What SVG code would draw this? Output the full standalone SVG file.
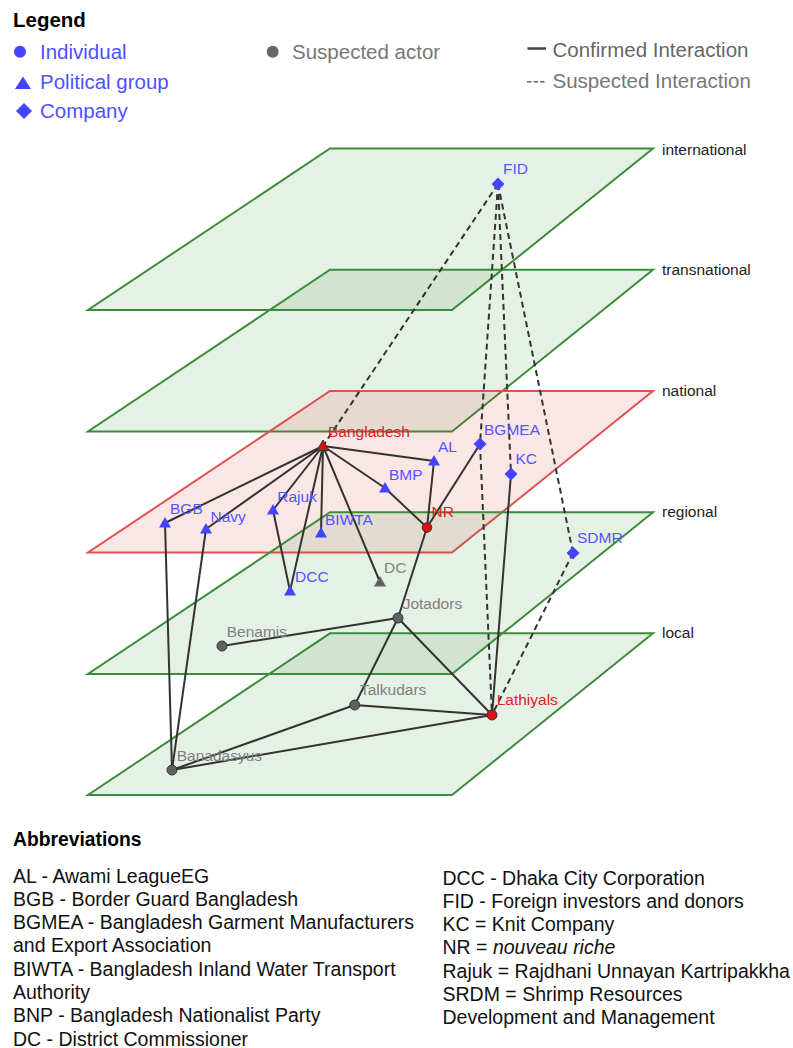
<svg xmlns="http://www.w3.org/2000/svg" width="793" height="1048" viewBox="0 0 793 1048">
<style>
text{font-family:"Liberation Sans",Arial,sans-serif}
.plane{fill:#2e8b2e;fill-opacity:0.12;stroke:#3c8c3c;stroke-width:2}
.nat{fill:#e03a3a;fill-opacity:0.13;stroke:#e05050;stroke-width:2}
.pl{font-size:15.5px;fill:#222}
.e{stroke:#333;stroke-width:2;fill:none}
.d{stroke:#333;stroke-width:2;fill:none;stroke-dasharray:6 4}
.blue{fill:#4444ff}
.red{fill:#dd1111;stroke:#333;stroke-width:1}
.grey{fill:#616161;stroke:#333;stroke-width:1}
.lb{font-size:15.5px;fill:#5555ff}
.lr{font-size:15.5px;fill:#dd2222}
.lg{font-size:15.5px;fill:#808080}
.lgd{font-size:20.5px}
.ab{font-size:19.5px;fill:#111}
.h{font-weight:bold;fill:#000}
</style>
<defs>
<path id="tri" d="M0,-6 L6,4.5 L-6,4.5Z"/>
<path id="dia" d="M0,-6.5 L6.5,0 L0,6.5 L-6.5,0Z"/>
</defs>
<rect width="793" height="1048" fill="#fff"/>

<g id="legend">
<text x="13" y="27" class="lgd h">Legend</text>
<circle cx="20" cy="51.7" r="6" class="blue"/>
<text x="40" y="58.5" class="lgd" fill="#5050ff">Individual</text>
<polygon points="23,76.5 31,89 15,89" class="blue"/>
<text x="40" y="88.5" class="lgd" fill="#5050ff">Political group</text>
<polygon points="24,103 32,111 24,119 16,111" class="blue"/>
<text x="40" y="118" class="lgd" fill="#5050ff">Company</text>
<circle cx="272.7" cy="51.7" r="6" fill="#666"/>
<text x="292" y="58.5" class="lgd" fill="#777">Suspected actor</text>
<line x1="527.5" y1="48.5" x2="546" y2="48.5" stroke="#444" stroke-width="2.5"/>
<text x="552.5" y="57" class="lgd" fill="#666">Confirmed Interaction</text>
<line x1="527" y1="81.7" x2="546" y2="81.7" stroke="#666" stroke-width="1.6" stroke-dasharray="4.5 2"/>
<text x="552.5" y="88" class="lgd" fill="#777">Suspected Interaction</text>
</g>

<g id="planes">
<g id="plane-international"><polygon class="plane" points="330,148.5 653,148.5 452,310 88,310"/><text x="662" y="154.5" class="pl">international</text></g>
<g id="plane-transnational"><polygon class="plane" points="330,269.7 653,269.7 452,431.5 88,431.5"/><text x="662" y="274.5" class="pl">transnational</text></g>
<g id="plane-national"><polygon class="nat" points="330,391 653,391 452,552.5 88,552.5"/><text x="662" y="395.5" class="pl">national</text></g>
<g id="plane-regional"><polygon class="plane" points="330,512.2 653,512.2 452,674 88,674"/><text x="662" y="517" class="pl">regional</text></g>
<g id="plane-local"><polygon class="plane" points="330,633.3 653,633.3 452,795 88,795"/><text x="662" y="638" class="pl">local</text></g>
</g>

<g id="connectors">
<line class="e" x1="323" y1="446" x2="165" y2="523"/>
<line class="e" x1="323" y1="446" x2="206" y2="529"/>
<line class="e" x1="323" y1="446" x2="273" y2="510"/>
<line class="e" x1="323" y1="446" x2="290" y2="591"/>
<line class="e" x1="323" y1="446" x2="321" y2="533"/>
<line class="e" x1="323" y1="446" x2="380" y2="582"/>
<line class="e" x1="323" y1="446" x2="385" y2="488"/>
<line class="e" x1="323" y1="446" x2="434" y2="461"/>
<line class="e" x1="385" y1="488" x2="427" y2="527.5"/>
<line class="e" x1="427" y1="527.5" x2="434" y2="461"/>
<line class="e" x1="427" y1="527.5" x2="480" y2="444"/>
<line class="e" x1="427" y1="527.5" x2="398" y2="618"/>
<line class="e" x1="511" y1="474" x2="492" y2="715"/>
<line class="e" x1="165" y1="523" x2="172" y2="770"/>
<line class="e" x1="206" y1="529" x2="172" y2="770"/>
<line class="e" x1="273" y1="510" x2="290" y2="591"/>
<line class="e" x1="398" y1="618" x2="222" y2="646"/>
<line class="e" x1="398" y1="618" x2="354.7" y2="705"/>
<line class="e" x1="398" y1="618" x2="492" y2="715"/>
<line class="e" x1="354.7" y1="705" x2="492" y2="715"/>
<line class="e" x1="354.7" y1="705" x2="172" y2="770"/>
<line class="e" x1="172" y1="770" x2="492" y2="715"/>
<line class="d" x1="498" y1="184" x2="323" y2="446"/>
<line class="d" x1="498" y1="184" x2="480" y2="444"/>
<line class="d" x1="480" y1="444" x2="492" y2="715"/>
<line class="d" x1="498" y1="184" x2="511" y2="474"/>
<line class="d" x1="498" y1="184" x2="573" y2="553"/>
<line class="d" x1="573" y1="553" x2="492" y2="715"/>
</g>

<g id="nodes">
<g id="node-FID"><use href="#dia" x="498" y="184" class="blue"/><text x="503" y="173.5" class="lb">FID</text></g>
<g id="node-Bangladesh"><use href="#tri" x="323" y="446" class="red"/><text x="328" y="437" class="lr">Bangladesh</text></g>
<g id="node-AL"><use href="#tri" x="434" y="461" class="blue"/><text x="438" y="451.5" class="lb">AL</text></g>
<g id="node-BMP"><use href="#tri" x="385" y="488" class="blue"/><text x="389" y="480" class="lb">BMP</text></g>
<g id="node-BGMEA"><use href="#dia" x="480" y="444" class="blue"/><text x="484" y="435" class="lb">BGMEA</text></g>
<g id="node-KC"><use href="#dia" x="511" y="474" class="blue"/><text x="515.5" y="464" class="lb">KC</text></g>
<g id="node-NR"><circle cx="427" cy="527.5" r="4.8" class="red"/><text x="431.5" y="517.3" class="lr">NR</text></g>
<g id="node-SDMR"><use href="#dia" x="573" y="553" class="blue"/><text x="577" y="543.3" class="lb">SDMR</text></g>
<g id="node-DC"><use href="#tri" x="380" y="582" fill="#616161"/><text x="384" y="572.7" class="lg">DC</text></g>
<g id="node-BGB"><use href="#tri" x="165" y="523" class="blue"/><text x="170" y="514" class="lb">BGB</text></g>
<g id="node-Navy"><use href="#tri" x="206" y="529" class="blue"/><text x="210.5" y="521.7" class="lb">Navy</text></g>
<g id="node-Rajuk"><use href="#tri" x="273" y="510" class="blue"/><text x="277.3" y="501.7" class="lb">Rajuk</text></g>
<g id="node-BIWTA"><use href="#tri" x="321" y="533" class="blue"/><text x="325" y="525" class="lb">BIWTA</text></g>
<g id="node-DCC"><use href="#tri" x="290" y="591" class="blue"/><text x="295" y="582.3" class="lb">DCC</text></g>
<g id="node-Jotadors"><circle cx="398" cy="618" r="5" class="grey"/><text x="402.7" y="609.3" class="lg">Jotadors</text></g>
<g id="node-Benamis"><circle cx="222" cy="646" r="5" class="grey"/><text x="226.7" y="636.7" class="lg">Benamis</text></g>
<g id="node-Talkudars"><circle cx="354.7" cy="705" r="5" class="grey"/><text x="360" y="695" class="lg">Talkudars</text></g>
<g id="node-Lathiyals"><circle cx="492" cy="715" r="5" class="red"/><text x="496.7" y="705" class="lr">Lathiyals</text></g>
<g id="node-Banadasyus"><circle cx="172" cy="770" r="5" class="grey"/><text x="176.7" y="760.7" class="lg">Banadasyus</text></g>
</g>

<g id="abbreviations">
<text x="13" y="845.5" class="ab h" style="font-size:19.3px">Abbreviations</text>
<text x="13" y="882.5" class="ab">AL - Awami LeagueEG</text>
<text x="13" y="905.8" class="ab">BGB - Border Guard Bangladesh</text>
<text x="13" y="929.1" class="ab">BGMEA - Bangladesh Garment Manufacturers</text>
<text x="13" y="952.4" class="ab">and Export Association</text>
<text x="13" y="975.7" class="ab">BIWTA - Bangladesh Inland Water Transport</text>
<text x="13" y="999" class="ab">Authority</text>
<text x="13" y="1022.3" class="ab">BNP - Bangladesh Nationalist Party</text>
<text x="13" y="1045.6" class="ab">DC - District Commissioner</text>
<text x="442.5" y="884.5" class="ab">DCC - Dhaka City Corporation</text>
<text x="442.5" y="907.8" class="ab">FID - Foreign investors and donors</text>
<text x="442.5" y="931.1" class="ab">KC = Knit Company</text>
<text x="442.5" y="954.4" class="ab">NR = <tspan font-style="italic">nouveau riche</tspan></text>
<text x="442.5" y="977.7" class="ab">Rajuk = Rajdhani Unnayan Kartripakkha</text>
<text x="442.5" y="1001" class="ab">SRDM = Shrimp Resources</text>
<text x="442.5" y="1024.3" class="ab">Development and Management</text>
</g>
</svg>
